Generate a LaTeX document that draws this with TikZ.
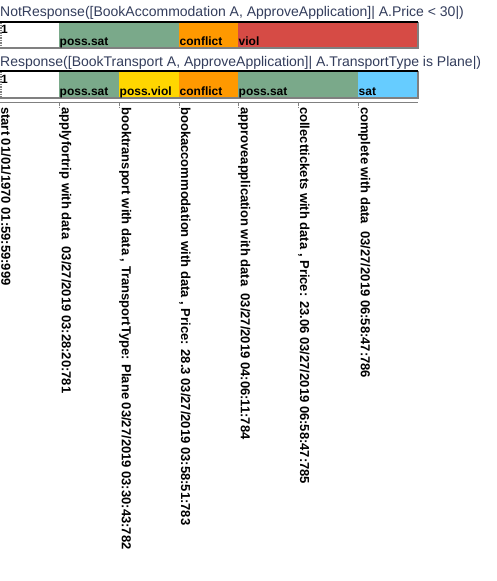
\documentclass[tikz,border=0pt]{standalone}
\usepackage{fontspec}
\setmainfont{Liberation Sans}
\usepackage{xcolor}
\usepackage{tikz}

\definecolor{ttlblue}{RGB}{51,61,92}
\definecolor{possat}{RGB}{122,169,138}
\definecolor{conflict}{RGB}{255,153,0}
\definecolor{viol}{RGB}{214,75,69}
\definecolor{possviol}{RGB}{255,214,0}
\definecolor{sat}{RGB}{102,204,255}

\tikzset{
  ttl/.style={anchor=base west,inner sep=0,text=ttlblue,font=\fontsize{14}{14}\selectfont},
  lbl/.style={anchor=base west,inner sep=0,font=\bfseries\fontsize{12}{12}\selectfont},
  evt/.style={rotate=-90,anchor=south west,inner sep=0,font=\bfseries\fontsize{13}{13}\selectfont},
  edge/.style={draw=gray,line width=1.5pt}
}

\begin{document}
\begin{tikzpicture}[x=1pt,y=-1pt]
    \useasboundingbox[fill=white] (0,0) rectangle (497,581);
    % first constraint
    \node[ttl] (t1) at (0,16) {NotResponse([BookAccommodation A, ApproveApplication]| A.Price < 30|)};
    \fill[possat] (59,22) rectangle (179,48);
    \fill[conflict] (179,22) rectangle (238,48);
    \fill[viol] (238,22) rectangle (418,48);
    \draw[edge] (0,48) -- (418,48) -- (418,22);
    \draw[gray,densely dotted,line width=1.5pt] (0.75,22) -- (0.75,48);
    \draw[black,line width=2pt] (0,22) -- (418,22);
    \node[lbl] (a0) at (1,33) {1};
    \node[lbl] (a1) at (59.5,45) {poss.sat};
    \node[lbl] (a2) at (179.5,45) {conflict};
    \node[lbl] (a3) at (238.5,45) {viol};
    % second constraint
    \node[ttl] (t2) at (0,66) {Response([BookTransport A, ApproveApplication]| A.TransportType is Plane|)};
    \fill[possat] (59,71) rectangle (119,98);
    \fill[possviol] (119,71) rectangle (179,98);
    \fill[conflict] (179,71) rectangle (238,98);
    \fill[possat] (238,71) rectangle (358,98);
    \fill[sat] (358,71) rectangle (418,98);
    \draw[edge] (0,98) -- (418,98) -- (418,71);
    \draw[gray,densely dotted,line width=1.5pt] (0.75,71) -- (0.75,98);
    \draw[black,line width=2pt] (0,71) -- (418,71);
    \node[lbl] (b0) at (1,83) {1};
    \node[lbl] (b1) at (59.5,95) {poss.sat};
    \node[lbl] (b2) at (119.5,95) {poss.viol};
    \node[lbl] (b3) at (179.5,95) {conflict};
    \node[lbl] (b4) at (238.5,95) {poss.sat};
    \node[lbl] (b5) at (358.5,95) {sat};
    % timeline
    \draw[gray,line width=1pt] (0,102.5) -- (418,102.5);
    \foreach \x in {59,119,179,238,298,358}
        \draw[gray,densely dotted] (\x,102.5) -- (\x,107);
    \node[evt] (e1) at (1,107) {start 01/01/1970 01:59:59:999};
    \node[evt] (e2) at (59,107) {applyfortrip with data\ \ 03/27/2019 03:28:20:781};
    \node[evt] (e3) at (119,107) {booktransport with data , TransportType: Plane 03/27/2019 03:30:43:782};
    \node[evt] (e4) at (179,107) {bookaccommodation with data , Price: 28.3 03/27/2019 03:58:51:783};
    \node[evt] (e5) at (238,107) {approveapplication with data\ \ 03/27/2019 04:06:11:784};
    \node[evt] (e6) at (298,107) {collecttickets with data , Price: 23.06 03/27/2019 06:58:47:785};
    \node[evt] (e7) at (358,107) {complete with data\ \ 03/27/2019 06:58:47:786};
\end{tikzpicture}
\end{document}
